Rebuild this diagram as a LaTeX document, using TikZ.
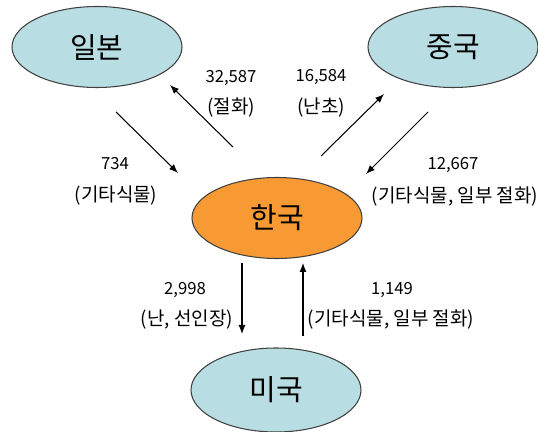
\documentclass[tikz,border=0pt]{standalone}
\usepackage{fontspec}
\setmainfont{Noto Sans CJK KR}
\usetikzlibrary{arrows.meta,shapes.geometric}
\definecolor{haneul}{RGB}{184,222,227}
\definecolor{juhwang}{RGB}{248,154,52}

\begin{document}
\begin{tikzpicture}[line width=0.6pt,>={Latex[length=1.8mm,width=1.4mm]},
  nara/.style={ellipse,draw=black!75,fill=haneul,inner sep=0pt,
    minimum width=3.4cm,minimum height=1.62cm,font=\fontsize{16.5}{19}\selectfont},
  suchi/.style={font=\fontsize{9.5}{11}\selectfont},
  pummok/.style={font=\fontsize{10.8}{12}\selectfont}]
  \useasboundingbox (0,0) rectangle (10.76,-8.64);
  % 나라
  \node[nara] (ilbon) at (1.94,-0.94){일본};
  \node[nara] (jungguk) at (9.06,-0.94){중국};
  \node[nara,fill=juhwang] (hanguk) at (5.54,-4.36){한국};
  \node[nara,minimum height=1.68cm] (miguk) at (5.52,-7.80){미국};
  % 화살표 끝점
  \coordinate (jk1) at (2.32,-2.24); \coordinate (jk2) at (3.56,-3.46);
  \coordinate (kj1) at (4.66,-2.94); \coordinate (kj2) at (3.40,-1.70);
  \coordinate (kc1) at (6.42,-3.12); \coordinate (kc2) at (7.68,-1.88);
  \coordinate (ck1) at (8.56,-2.24); \coordinate (ck2) at (7.32,-3.48);
  \coordinate (km1) at (4.84,-5.26); \coordinate (km2) at (4.84,-6.68);
  \coordinate (mk1) at (6.06,-6.72); \coordinate (mk2) at (6.06,-5.26);
  \foreach \a/\b in {jk1/jk2,kj1/kj2,kc1/kc2,ck1/ck2,km1/km2,mk1/mk2}
    \draw[->] (\a)--(\b);
  % 수출입 수치
  \node[suchi] (n1) at (4.62,-1.56){32,587};
  \node[pummok] (p1) at (4.62,-2.15){(절화)};
  \node[suchi] (n2) at (2.30,-3.28){734};
  \node[pummok] (p2) at (2.32,-3.92){(기타식물)};
  \node[suchi] (n3) at (6.42,-1.55){16,584};
  \node[pummok] (p3) at (6.42,-2.15){(난초)};
  \node[suchi] (n4) at (9.06,-3.30){12,667};
  \node[pummok] (p4) at (9.10,-3.93){(기타식물, 일부 절화)};
  \node[suchi] (n5) at (3.70,-5.80){2,998};
  \node[pummok] (p5) at (3.74,-6.40){(난, 선인장)};
  \node[suchi] (n6) at (7.84,-5.80){1,149};
  \node[pummok] (p6) at (7.82,-6.40){(기타식물, 일부 절화)};
\end{tikzpicture}
\end{document}
